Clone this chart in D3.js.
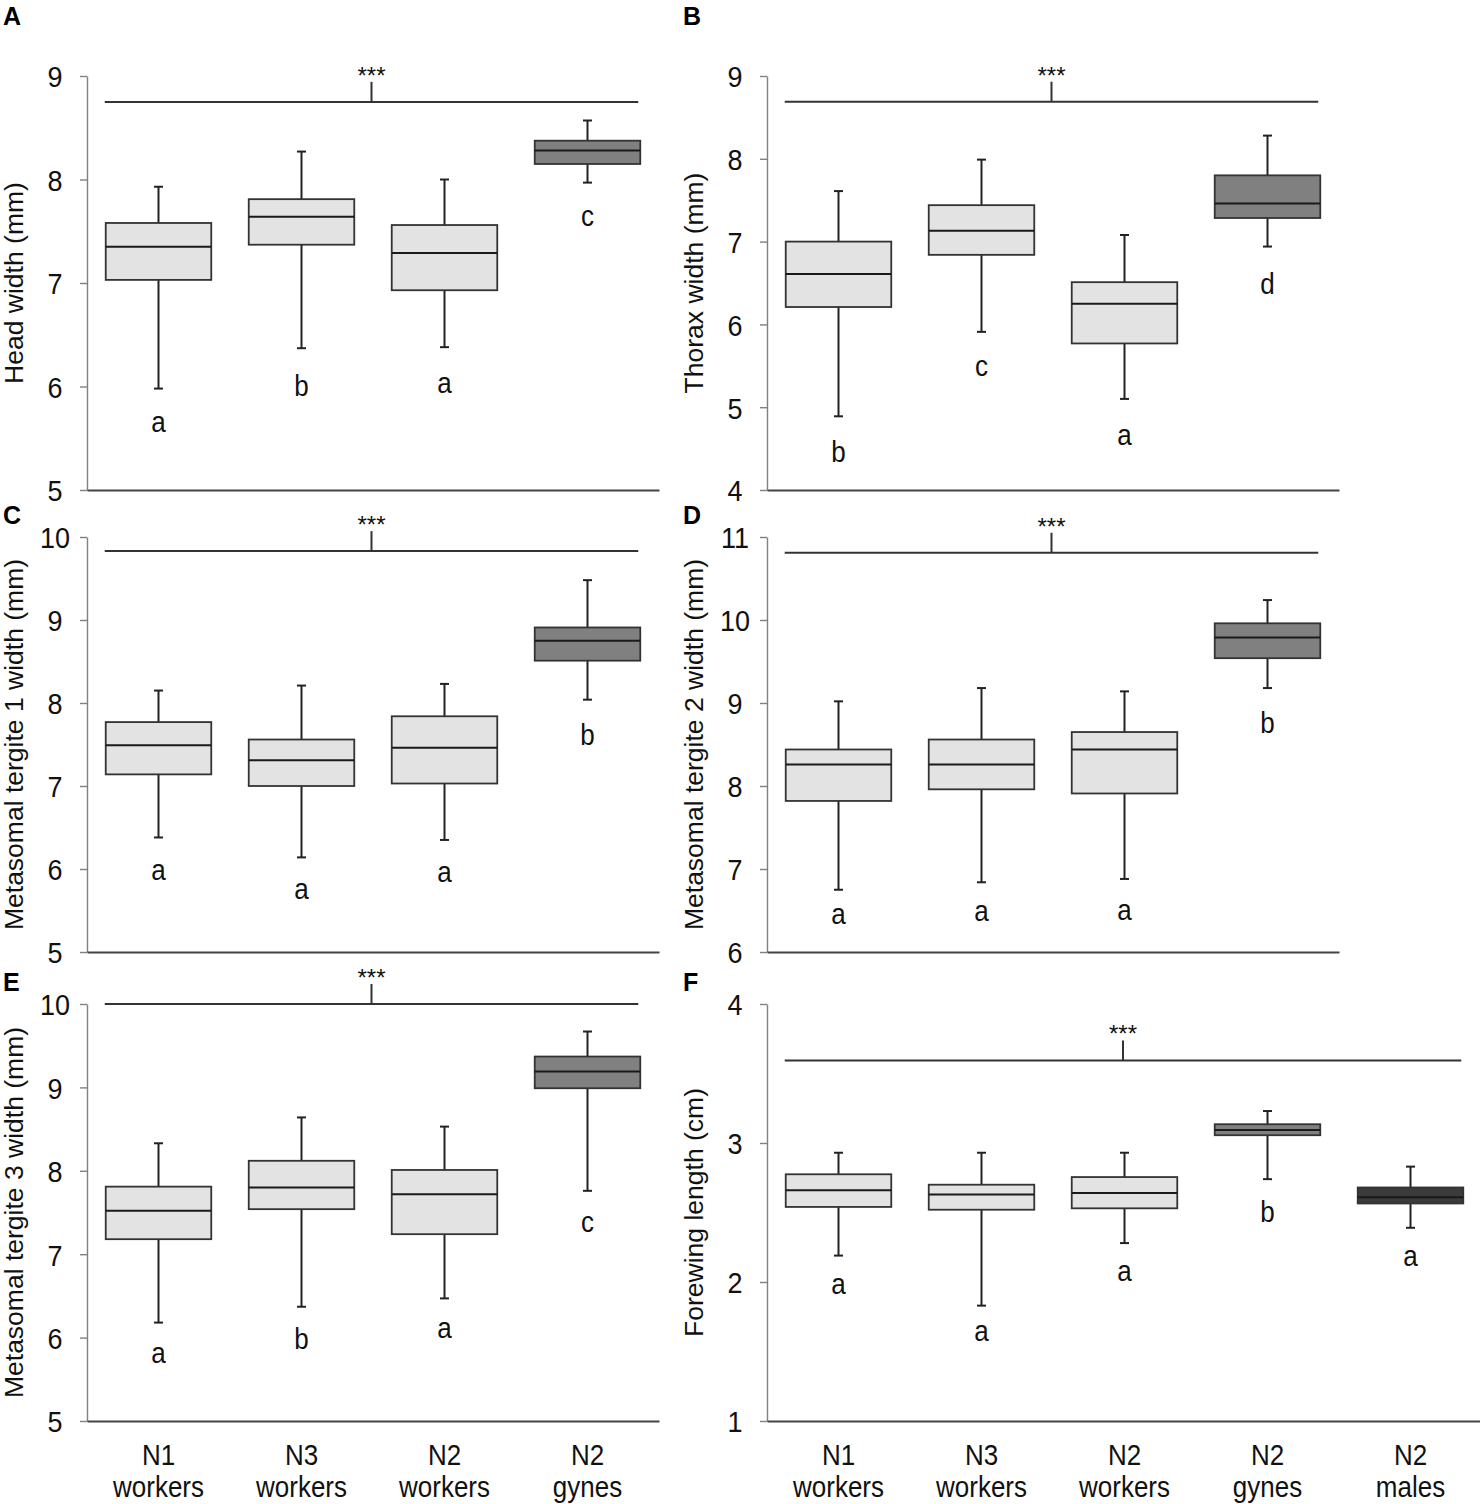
<!DOCTYPE html>
<html>
<head>
<meta charset="utf-8">
<script src="https://cdn.jsdelivr.net/npm/d3@7"></script>
<style>
  body { margin: 0; background: #fff; }
  svg { display: block; font-family: "Liberation Sans", Arial, sans-serif; }
</style>
</head>
<body>
<svg width="1480" height="1504"></svg>
<script>
// groups on the x axis
var casteGroups = ["N1 workers", "N3 workers", "N2 workers", "N2 gynes"];
var wingGroups = ["N1 workers", "N3 workers", "N2 workers", "N2 gynes", "N2 males"];

// box stats per group: [whisker low, Q1, median, Q3, whisker high]
var headWidth = [[5.98, 7.03, 7.35, 7.58, 7.93], [6.37, 7.37, 7.64, 7.81, 8.27],
  [6.38, 6.93, 7.29, 7.56, 8.0], [7.97, 8.15, 8.28, 8.375, 8.57]];
var thoraxWidth = [[4.89, 6.21, 6.61, 7.0, 7.61], [5.91, 6.84, 7.13, 7.44, 7.99],
  [5.1, 5.77, 6.25, 6.51, 7.08], [6.94, 7.285, 7.46, 7.8, 8.28]];
var tergite1Width = [[6.38, 7.14, 7.49, 7.77, 8.15], [6.14, 7.0, 7.31, 7.56, 8.21],
  [6.35, 7.03, 7.46, 7.84, 8.23], [8.04, 8.51, 8.75, 8.91, 9.48]];
var tergite2Width = [[6.75, 7.82, 8.26, 8.44, 9.02], [6.84, 7.96, 8.26, 8.56, 9.18],
  [6.88, 7.91, 8.44, 8.65, 9.14], [9.18, 9.54, 9.79, 9.96, 10.24]];
var tergite3Width = [[6.18, 7.18, 7.52, 7.81, 8.33], [6.37, 7.54, 7.8, 8.12, 8.64],
  [6.47, 7.24, 7.72, 8.01, 8.53], [7.76, 8.99, 9.19, 9.37, 9.67]];
var forewingLength = [[2.19, 2.54, 2.66, 2.775, 2.93], [1.83, 2.52, 2.63, 2.7, 2.93],
  [2.28, 2.53, 2.64, 2.755, 2.93], [2.74, 3.056, 3.094, 3.135, 3.23], [2.39, 2.565, 2.61, 2.68, 2.83]];

// post-hoc letters and the value they sit at
var headLetters = ["a", "b", "a", "c"], headLetterAt = [5.63, 6.01, 6.01, 7.62];
var thoraxLetters = ["b", "c", "a", "d"], thoraxLetterAt = [4.46, 5.47, 4.64, 6.5];
var tergite1Letters = ["a", "a", "a", "b"], tergite1LetterAt = [5.96, 5.73, 5.93, 7.62];
var tergite2Letters = ["a", "a", "a", "b"], tergite2LetterAt = [6.43, 6.46, 6.48, 8.77];
var tergite3Letters = ["a", "b", "a", "c"], tergite3LetterAt = [5.79, 5.99, 6.09, 7.36];
var forewingLetters = ["a", "a", "a", "b", "a"], forewingLetterAt = [1.97, 1.63, 2.06, 2.51, 2.17];

// overall test bar height (value units) and y ticks
var sigAt = [8.75, 8.69, 9.83, 10.81, 10.0, 3.594];
var headTicks = [5, 6, 7, 8, 9];
var thoraxTicks = [4, 5, 6, 7, 8, 9];
var tergite1Ticks = [5, 6, 7, 8, 9, 10];
var tergite2Ticks = [6, 7, 8, 9, 10, 11];
var tergite3Ticks = [5, 6, 7, 8, 9, 10];
var forewingTicks = [1, 2, 3, 4];

var panels = [
  { key: "A", title: "Head width (mm)", groups: casteGroups, stats: headWidth, letters: headLetters, letterAt: headLetterAt, ticks: headTicks, sig: sigAt[0], col: 0, row: 0 },
  { key: "B", title: "Thorax width (mm)", groups: casteGroups, stats: thoraxWidth, letters: thoraxLetters, letterAt: thoraxLetterAt, ticks: thoraxTicks, sig: sigAt[1], col: 1, row: 0 },
  { key: "C", title: "Metasomal tergite 1 width (mm)", groups: casteGroups, stats: tergite1Width, letters: tergite1Letters, letterAt: tergite1LetterAt, ticks: tergite1Ticks, sig: sigAt[2], col: 0, row: 1 },
  { key: "D", title: "Metasomal tergite 2 width (mm)", groups: casteGroups, stats: tergite2Width, letters: tergite2Letters, letterAt: tergite2LetterAt, ticks: tergite2Ticks, sig: sigAt[3], col: 1, row: 1 },
  { key: "E", title: "Metasomal tergite 3 width (mm)", groups: casteGroups, stats: tergite3Width, letters: tergite3Letters, letterAt: tergite3LetterAt, ticks: tergite3Ticks, sig: sigAt[4], col: 0, row: 2 },
  { key: "F", title: "Forewing length (cm)", groups: wingGroups, stats: forewingLength, letters: forewingLetters, letterAt: forewingLetterAt, ticks: forewingTicks, sig: sigAt[5], col: 1, row: 2 }
];

var svg = d3.select("svg");
var colLeft = [87, 767],
  rowTop = [76, 537, 1004],
  rowBottom = [490, 952, 1421],
  step = 143,
  boxFrac = 0.738,
  tall = 1.12; // the source figure's text is slightly stretched vertically

function fillFor(g) {
  if (g.indexOf("gynes") >= 0) return "#808080";
  if (g.indexOf("males") >= 0) return "#3b3b3b";
  return "#e2e3e2";
}

panels.forEach(function (p) {
  var x0 = colLeft[p.col];
  var x = d3.scaleBand().domain(p.groups).range([x0, x0 + step * p.groups.length]);
  var y = d3.scaleLinear().domain(d3.extent(p.ticks)).range([rowBottom[p.row], rowTop[p.row]]);
  var g = svg.append("g");
  var bw = x.bandwidth() * boxFrac;

  // y axis
  var ya = g.append("g")
    .attr("transform", "translate(" + x0 + ",0)")
    .call(d3.axisLeft(y).tickValues(p.ticks).tickSize(7).tickSizeOuter(0).tickFormat(d3.format("d")));
  ya.select(".domain").attr("stroke", "#808080").attr("stroke-width", 1.4);
  ya.selectAll(".tick line").attr("stroke", "#808080").attr("stroke-width", 1.4);
  ya.selectAll(".tick text")
    .attr("x", 0).attr("dy", "0.36em")
    .attr("transform", "translate(-32,0) scale(1," + tall + ")")
    .attr("text-anchor", "middle")
    .attr("font-size", 27).attr("fill", "#111")
    .attr("font-family", "Liberation Sans, Arial, sans-serif");

  // x axis line (labels only on the bottom row)
  var xa = g.append("g")
    .attr("transform", "translate(0," + y.range()[0] + ")")
    .call(d3.axisBottom(x).tickSize(0).tickSizeOuter(0).tickFormat(""));
  xa.select(".domain").attr("stroke", "#444").attr("stroke-width", 2);
  if (p.row === 2) {
    var lab = xa.selectAll(".tick text").text(null)
      .attr("font-size", 26).attr("fill", "#111")
      .attr("font-family", "Liberation Sans, Arial, sans-serif")
      .attr("y", 0).attr("dy", 0)
      .attr("transform", "scale(1," + tall + ")");
    lab.append("tspan").attr("x", 0).attr("y", 44 / tall).text(function (d) { return d.split(" ")[0]; });
    lab.append("tspan").attr("x", 0).attr("y", 76 / tall).text(function (d) { return d.split(" ")[1]; });
  }

  // boxes
  var box = g.selectAll(".box").data(p.stats).enter().append("g")
    .attr("transform", function (d, i) { return "translate(" + (x(p.groups[i]) + x.bandwidth() / 2) + ",0)"; });
  box.append("line")
    .attr("y1", function (d) { return y(d[0]); }).attr("y2", function (d) { return y(d[4]); })
    .attr("stroke", "#222").attr("stroke-width", 2);
  box.selectAll(".cap").data(function (d) { return [d[0], d[4]]; }).enter().append("line")
    .attr("x1", -4.5).attr("x2", 4.5)
    .attr("y1", function (v) { return y(v); }).attr("y2", function (v) { return y(v); })
    .attr("stroke", "#222").attr("stroke-width", 2);
  box.append("rect")
    .attr("x", -bw / 2).attr("width", bw)
    .attr("y", function (d) { return y(d[3]); })
    .attr("height", function (d) { return y(d[1]) - y(d[3]); })
    .attr("fill", function (d, i) { return fillFor(p.groups[i]); })
    .attr("stroke", "#333").attr("stroke-width", 1.8);
  box.append("line")
    .attr("x1", -bw / 2).attr("x2", bw / 2)
    .attr("y1", function (d) { return y(d[2]); }).attr("y2", function (d) { return y(d[2]); })
    .attr("stroke", "#1a1a1a").attr("stroke-width", 2);

  // letters
  g.selectAll(".letter").data(p.letters).enter().append("text")
    .attr("transform", function (d, i) {
      var lx = x(p.groups[i]) + x.bandwidth() / 2;
      var ly = y(p.letterAt[i]) + ("bd".indexOf(d) >= 0 ? 10.5 : 7.5);
      return "translate(" + lx + "," + ly + ") scale(1," + tall + ")";
    })
    .attr("text-anchor", "middle")
    .attr("font-size", 26).attr("fill", "#111")
    .text(function (d) { return d; });

  // overall significance bar
  var first = p.groups[0], last = p.groups[p.groups.length - 1];
  var sx1 = x(first) + (x.bandwidth() - bw) / 2 - 1,
    sx2 = x(last) + (x.bandwidth() + bw) / 2 - 2,
    sy = y(p.sig),
    mid = (sx1 + sx2) / 2;
  g.append("line").attr("x1", sx1).attr("x2", sx2).attr("y1", sy).attr("y2", sy)
    .attr("stroke", "#333").attr("stroke-width", 2);
  g.append("line").attr("x1", mid).attr("x2", mid).attr("y1", sy).attr("y2", sy - 20)
    .attr("stroke", "#333").attr("stroke-width", 2);
  g.append("text").attr("x", mid).attr("y", sy - 18)
    .attr("text-anchor", "middle").attr("font-size", 24).attr("fill", "#111")
    .text("***");

  // y title
  var ty = (y.range()[0] + y.range()[1]) / 2;
  g.append("text")
    .attr("transform", "translate(" + (x0 - 64) + "," + ty + ") rotate(-90)")
    .attr("text-anchor", "middle")
    .attr("font-size", 26.5).attr("fill", "#111")
    .text(p.title);

  // panel letter
  g.append("text")
    .attr("x", x0 - 84).attr("y", rowTop[p.row] - (p.row === 0 ? 51 : 13))
    .attr("font-size", 25).attr("font-weight", "bold").attr("fill", "#000")
    .text(p.key);
});
</script>
</body>
</html>
